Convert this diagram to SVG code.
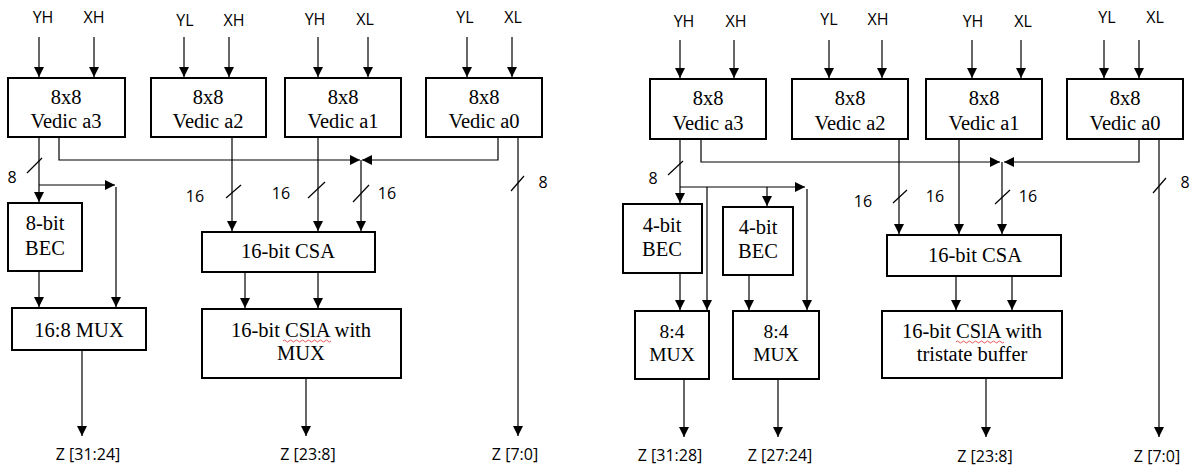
<svg xmlns="http://www.w3.org/2000/svg" width="1191" height="468" viewBox="0 0 1191 468">
<style>
.box{fill:#fff;stroke:#000;stroke-width:2}
.w{fill:none;stroke:#000;stroke-width:1.2}
.a{fill:none;stroke:#000;stroke-width:1.2;marker-end:url(#ah)}
.t{font-family:"Liberation Serif",serif;font-size:20.5px;text-anchor:middle;fill:#000}
.m{font-family:"Liberation Serif",serif;font-size:19.5px;text-anchor:middle;fill:#000}
.l{font-family:"Open Sans","Liberation Sans",sans-serif;font-size:16px;text-anchor:middle;fill:#000}
.sq{fill:none;stroke:#e03030;stroke-width:0.8}
</style>
<defs>
<marker id="ah" viewBox="0 0 10 10" refX="10" refY="5" markerWidth="10" markerHeight="10" markerUnits="userSpaceOnUse" orient="auto">
<path d="M0,0 L10,5 L0,10 z" fill="#000"/>
</marker>
</defs>

<g id="connectors">
<!-- LEFT: inputs -->
<path class="a" d="M39,37 V77"/><path class="a" d="M94,37 V77"/>
<path class="a" d="M184,37 V77"/><path class="a" d="M229,37 V77"/>
<path class="a" d="M318,37 V77"/><path class="a" d="M368,37 V77"/>
<path class="a" d="M467,37 V77"/><path class="a" d="M512,37 V77"/>
<!-- LEFT: bus -->
<path class="a" d="M59,137 V160 H360"/>
<path class="a" d="M498,137 V160 H362"/>
<path class="a" d="M361,160 V231"/>
<path class="a" d="M232,137 V231"/>
<path class="a" d="M318,137 V231"/>
<path class="a" d="M518,137 V436"/>
<!-- LEFT: a3 chain -->
<path class="a" d="M39,137 V202"/>
<path class="a" d="M39,185 H115"/>
<path class="a" d="M116,187 V307"/>
<path class="a" d="M39,271 V307"/>
<path class="a" d="M82,350 V436"/>
<path class="a" d="M245,272 V308"/>
<path class="a" d="M318,272 V308"/>
<path class="a" d="M306,378 V436"/>
<!-- LEFT ticks -->
<path class="w" d="M27,173 L42,158"/>
<path class="w" d="M226,198 L241,185"/>
<path class="w" d="M308,198 L325,182"/>
<path class="w" d="M353,202 L369,185"/>
<path class="w" d="M511,191 L524,176"/>

<!-- RIGHT: inputs -->
<path class="a" d="M680,40 V78"/><path class="a" d="M734,40 V78"/>
<path class="a" d="M829,40 V78"/><path class="a" d="M882,40 V78"/>
<path class="a" d="M972,40 V78"/><path class="a" d="M1021,40 V78"/>
<path class="a" d="M1104,40 V78"/><path class="a" d="M1139,40 V78"/>
<!-- RIGHT: bus -->
<path class="a" d="M701,139 V162 H1000"/>
<path class="a" d="M1139,139 V162 H1004"/>
<path class="a" d="M1002,162 V234"/>
<path class="a" d="M899,139 V234"/>
<path class="a" d="M959,139 V234"/>
<path class="a" d="M1159,139 V437"/>
<!-- RIGHT: a3 chain -->
<path class="a" d="M680,139 V203"/>
<path class="a" d="M680,187 H805"/>
<path class="a" d="M707,187 V310"/>
<path class="a" d="M767,187 V206"/>
<path class="a" d="M807,189 V310"/>
<path class="a" d="M680,273 V310"/>
<path class="a" d="M749,275 V310"/>
<path class="a" d="M684,379 V437"/>
<path class="a" d="M778,379 V437"/>
<path class="a" d="M956,276 V310"/>
<path class="a" d="M1012,276 V310"/>
<path class="a" d="M986,378 V437"/>
<!-- RIGHT ticks -->
<path class="w" d="M668,175 L683,161"/>
<path class="w" d="M893,203 L907,190"/>
<path class="w" d="M995,204 L1010,190"/>
<path class="w" d="M1153,193 L1166,178"/>
</g>

<!-- LEFT nodes -->
<g id="L_a3"><rect class="box" x="8" y="78" width="117" height="59"/><text class="t" x="66" y="104">8x8</text><text class="t" x="66" y="128">Vedic a3</text></g>
<g id="L_a2"><rect class="box" x="151" y="78" width="115" height="59"/><text class="t" x="208" y="104">8x8</text><text class="t" x="208" y="128">Vedic a2</text></g>
<g id="L_a1"><rect class="box" x="285" y="78" width="116" height="59"/><text class="t" x="343" y="104">8x8</text><text class="t" x="343" y="128">Vedic a1</text></g>
<g id="L_a0"><rect class="box" x="426" y="78" width="116" height="59"/><text class="t" x="484" y="104">8x8</text><text class="t" x="484" y="128">Vedic a0</text></g>
<g id="L_bec"><rect class="box" x="8" y="203" width="74" height="68"/><text class="t" x="45" y="230">8-bit</text><text class="t" x="45" y="255">BEC</text></g>
<g id="L_mux"><rect class="box" x="12" y="308" width="134" height="42"/><text class="t" x="79" y="337">16:8 MUX</text></g>
<g id="L_csa"><rect class="box" x="202" y="232" width="173" height="40"/><text class="t" x="288" y="258">16-bit CSA</text></g>
<g id="L_csla"><rect class="box" x="202" y="309" width="199" height="69"/><text class="t" x="301" y="337">16-bit CSlA with</text><text class="t" x="301" y="360">MUX</text>
<path class="sq" d="M283,341 q1.5,-2 3,0 t3,0 t3,0 t3,0 t3,0 t3,0 t3,0 t3,0 t3,0 t3,0 t3,0 t3,0 t3,0 t3,0 t3,0 t3,0"/></g>

<!-- RIGHT nodes -->
<g id="R_a3"><rect class="box" x="650" y="79" width="116" height="60"/><text class="t" x="708" y="105">8x8</text><text class="t" x="708" y="130">Vedic a3</text></g>
<g id="R_a2"><rect class="box" x="792" y="79" width="116" height="60"/><text class="t" x="850" y="105">8x8</text><text class="t" x="850" y="130">Vedic a2</text></g>
<g id="R_a1"><rect class="box" x="926" y="79" width="116" height="60"/><text class="t" x="984" y="105">8x8</text><text class="t" x="984" y="130">Vedic a1</text></g>
<g id="R_a0"><rect class="box" x="1067" y="79" width="116" height="60"/><text class="t" x="1125" y="105">8x8</text><text class="t" x="1125" y="130">Vedic a0</text></g>
<g id="R_bec1"><rect class="box" x="623" y="204" width="79" height="69"/><text class="t" x="662" y="232">4-bit</text><text class="t" x="662" y="256">BEC</text></g>
<g id="R_bec2"><rect class="box" x="723" y="207" width="70" height="68"/><text class="t" x="758" y="234">4-bit</text><text class="t" x="758" y="258">BEC</text></g>
<g id="R_mux1"><rect class="box" x="635" y="311" width="74" height="68"/><text class="m" x="672" y="338">8:4</text><text class="m" x="672" y="361">MUX</text></g>
<g id="R_mux2"><rect class="box" x="733" y="311" width="86" height="68"/><text class="m" x="776" y="338">8:4</text><text class="m" x="776" y="361">MUX</text></g>
<g id="R_csa"><rect class="box" x="887" y="235" width="174" height="41"/><text class="t" x="975" y="262">16-bit CSA</text></g>
<g id="R_csla"><rect class="box" x="882" y="311" width="180" height="67"/><text class="t" x="972" y="338">16-bit CSlA with</text><text class="t" x="972" y="361">tristate buffer</text>
<path class="sq" d="M956,342 q1.5,-2 3,0 t3,0 t3,0 t3,0 t3,0 t3,0 t3,0 t3,0 t3,0 t3,0 t3,0 t3,0 t3,0 t3,0 t3,0 t3,0"/></g>

<g id="labels">
<text class="l" x="43" y="23">YH</text><text class="l" x="94" y="23">XH</text>
<text class="l" x="185" y="26">YL</text><text class="l" x="234" y="26">XH</text>
<text class="l" x="315" y="25">YH</text><text class="l" x="365" y="25">XL</text>
<text class="l" x="465" y="23">YL</text><text class="l" x="513" y="23">XL</text>
<text class="l" x="12" y="183">8</text>
<text class="l" x="195" y="202">16</text>
<text class="l" x="281" y="199">16</text>
<text class="l" x="387" y="199">16</text>
<text class="l" x="543" y="188">8</text>
<text class="l" x="88" y="460">Z [31:24]</text>
<text class="l" x="308" y="460">Z [23:8]</text>
<text class="l" x="515" y="460">Z [7:0]</text>

<text class="l" x="684" y="27">YH</text><text class="l" x="736" y="27">XH</text>
<text class="l" x="829" y="25">YL</text><text class="l" x="878" y="25">XH</text>
<text class="l" x="973" y="27">YH</text><text class="l" x="1023" y="27">XL</text>
<text class="l" x="1107" y="23">YL</text><text class="l" x="1155" y="23">XL</text>
<text class="l" x="653" y="184">8</text>
<text class="l" x="863" y="207">16</text>
<text class="l" x="935" y="202">16</text>
<text class="l" x="1028" y="202">16</text>
<text class="l" x="1185" y="188">8</text>
<text class="l" x="670" y="461">Z [31:28]</text>
<text class="l" x="780" y="461">Z [27:24]</text>
<text class="l" x="985" y="462">Z [23:8]</text>
<text class="l" x="1157" y="462">Z [7:0]</text>
</g>
</svg>
